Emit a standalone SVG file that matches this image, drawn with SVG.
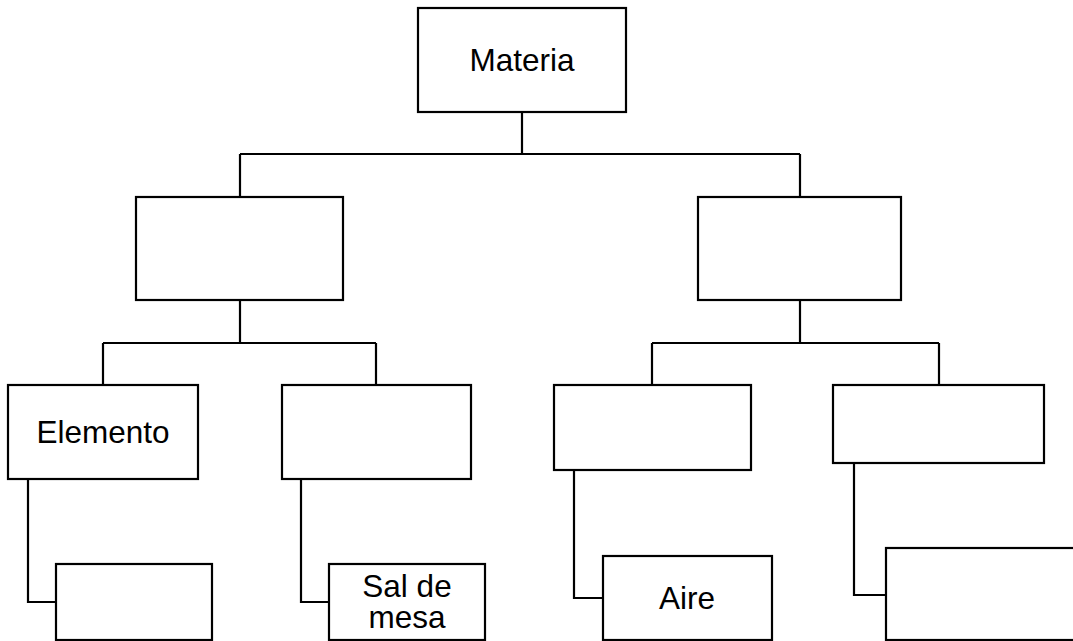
<svg xmlns="http://www.w3.org/2000/svg" width="1073" height="641" viewBox="0 0 1073 641">
<style>
.box{fill:#fff;stroke:#000;stroke-width:2.2}
.ln{fill:none;stroke:#000;stroke-width:2.2}
.t{font-family:"Liberation Sans",Arial,sans-serif;font-size:31.5px;fill:#000;text-anchor:middle}
</style>
<rect width="1073" height="641" fill="#fff"/>
<g id="connectors">
<path class="ln" d="M522,112 V154 M240,154 H800 M240,154 V197 M800,154 V197"/>
<path class="ln" d="M240,300 V343 M103,343 H376 M103,343 V385 M376,343 V385"/>
<path class="ln" d="M800,300 V343 M652,343 H939 M652,343 V385 M939,343 V385"/>
<path class="ln" d="M28,479 V602 H56"/>
<path class="ln" d="M301,479 V602 H329"/>
<path class="ln" d="M574,470 V598 H603"/>
<path class="ln" d="M854,463 V595 H886"/>
</g>
<g id="materia"><rect class="box" x="418" y="8" width="208" height="104"/><text class="t" x="522" y="71">Materia</text></g>
<g id="mid-left"><rect class="box" x="136" y="197" width="207" height="103"/></g>
<g id="mid-right"><rect class="box" x="698" y="197" width="203" height="103"/></g>
<g id="elemento"><rect class="box" x="8" y="385" width="190" height="94"/><text class="t" x="103" y="443">Elemento</text></g>
<g id="box-2"><rect class="box" x="282" y="385" width="189" height="94"/></g>
<g id="box-3"><rect class="box" x="554" y="385" width="197" height="85"/></g>
<g id="box-4"><rect class="box" x="833" y="385" width="211" height="78"/></g>
<g id="leaf-1"><rect class="box" x="56" y="564" width="156" height="76"/></g>
<g id="sal"><rect class="box" x="329" y="564" width="156" height="76"/><text class="t" x="407" y="597">Sal de</text><text class="t" x="407" y="628">mesa</text></g>
<g id="aire"><rect class="box" x="603" y="556" width="169" height="84"/><text class="t" x="687" y="609">Aire</text></g>
<g id="leaf-4"><rect class="box" x="886" y="548" width="200" height="92"/></g>
</svg>
